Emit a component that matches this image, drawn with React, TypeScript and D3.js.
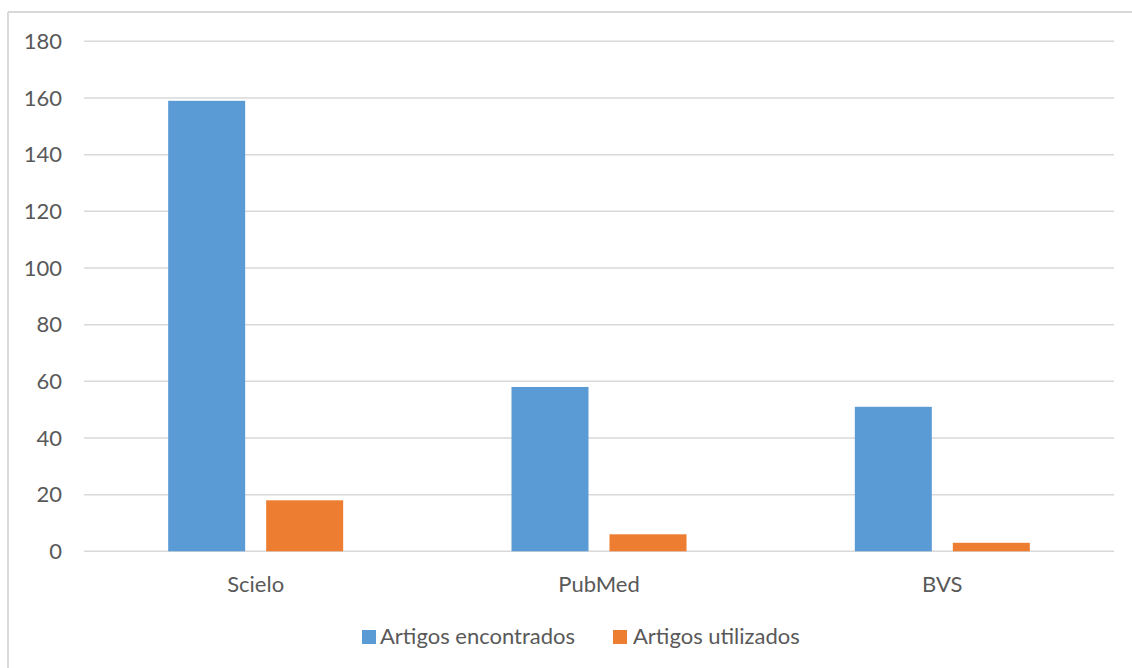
import React from "react";
import * as d3 from "d3";

const categories = ["Scielo", "PubMed", "BVS"];
const seriesNames = ["Artigos encontrados", "Artigos utilizados"];
const encontrados = [159, 58, 51];
const utilizados = [18, 6, 3];
const yTicks = [0, 20, 40, 60, 80, 100, 120, 140, 160, 180];
const colors = ["#5B9BD5", "#ED7D31"];

const W = 1132;
const H = 668;
const FONT = "Lato, 'Open Sans', sans-serif";
const FS = 22;

export default function App() {
  const plotL = 84, plotR = 1114, plotT = 41.3, plotB = 551.3;
  const y = d3.scaleLinear().domain([0, 180]).range([plotB, plotT]);
  const x0 = d3.scaleBand<string>().domain(categories).range([plotL, plotR]).padding(0);
  const groupW = 175;
  const x1 = d3.scaleBand<string>().domain(seriesNames).range([0, groupW]).paddingInner(21 / 98).paddingOuter(0);
  const values = [encontrados, utilizados];
  const offset = (x0.bandwidth() - groupW) / 2;

  return (
    <svg width={W} height={H} style={{ position: "absolute", left: 0, top: 0, background: "#fff" }}>
      <rect x={0} y={0} width={W} height={H} fill="#fff" />
      {/* frame */}
      <line x1={8} x2={W} y1={12} y2={12} stroke="#d9d9d9" strokeWidth={2} />
      <line x1={8} x2={8} y1={12} y2={H} stroke="#d9d9d9" strokeWidth={2} />
      {/* gridlines */}
      {yTicks.map((t) => (
        <line key={t} x1={plotL} x2={plotR} y1={y(t)} y2={y(t)} stroke="#d9d9d9" strokeWidth={1.5} />
      ))}
      {/* y labels */}
      {yTicks.map((t) => (
        <text key={"l" + t} x={62} y={y(t)} dy="0.35em" textAnchor="end" fontFamily={FONT} fontSize={FS} fill="#595959">
          {t}
        </text>
      ))}
      {/* bars */}
      {categories.map((c, ci) =>
        seriesNames.map((s, si) => {
          const v = values[si][ci];
          const bx = (x0(c) as number) + offset + (x1(s) as number);
          return (
            <rect key={c + s} x={bx} y={y(v)} width={x1.bandwidth()} height={y(0) - y(v)} fill={colors[si]} />
          );
        })
      )}
      {/* x labels */}
      {categories.map((c) => (
        <text key={"x" + c} x={(x0(c) as number) + x0.bandwidth() / 2} y={592} textAnchor="middle" fontFamily={FONT} fontSize={FS} fill="#595959">
          {c}
        </text>
      ))}
      {/* legend */}
      <rect x={362} y={630} width={14} height={14} fill={colors[0]} />
      <text x={380} y={644} fontFamily={FONT} fontSize={FS} fill="#595959">{seriesNames[0]}</text>
      <rect x={613} y={630} width={14} height={14} fill={colors[1]} />
      <text x={633} y={644} fontFamily={FONT} fontSize={FS} fill="#595959">{seriesNames[1]}</text>
    </svg>
  );
}
